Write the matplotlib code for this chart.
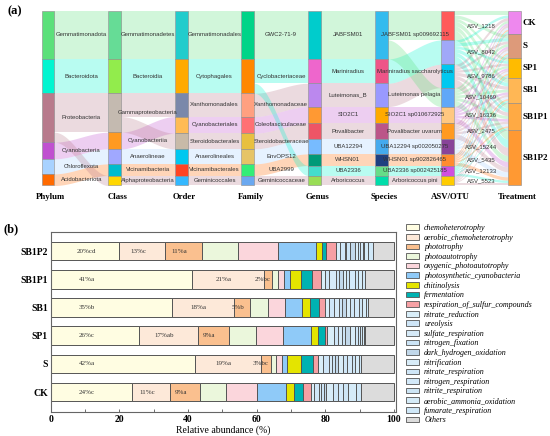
import matplotlib
matplotlib.use('Agg')

import matplotlib.pyplot as plt
import numpy as np
from matplotlib.patches import Patch, Rectangle

SERIF = 'Liberation Serif'
SANS = 'Liberation Sans'

# ── Panel (a): lineage of the ten dominant ASVs ──────────────────────────────
ASV_IDS = ['ASV_1218', 'ASV_8042', 'ASV_9786', 'ASV_10469', 'ASV_16336',
           'ASV_2475', 'ASV_15244', 'ASV_5435', 'ASV_12133', 'ASV_5523']
ASV_ABUND = [87, 73, 70, 57, 50, 47, 45, 35, 30, 30]
ASV_PHYLUM = ['Gemmatimonadota', 'Bacteroidota', 'Proteobacteria', 'Gemmatimonadota',
              'Cyanobacteria', 'Proteobacteria', 'Chloroflexota', 'Acidobacteriota',
              'Bacteroidota', 'Proteobacteria']
ASV_CLASS = ['Gemmatimonadetes', 'Bacteroidia', 'Gammaproteobacteria', 'Gemmatimonadetes',
             'Cyanobacteriia', 'Gammaproteobacteria', 'Anaerolineae', 'Vicinamibacteria',
             'Bacteroidia', 'Alphaproteobacteria']
ASV_ORDER = ['Gemmatimonadales', 'Cytophagales', 'Xanthomonadales', 'Gemmatimonadales',
             'Cyanobacteriales', 'Steroidobacterales', 'Anaerolineales', 'Vicinamibacterales',
             'Cytophagales', 'Geminicoccales']
ASV_FAMILY = ['GWC2-71-9', 'Cyclobacteriaceae', 'Xanthomonadaceae', 'GWC2-71-9',
              'Coleofasciculaceae', 'Steroidobacteraceae', 'EnvOPS12', 'UBA2999',
              'Cyclobacteriaceae', 'Geminicoccaceae']
ASV_GENUS = ['JABFSM01', 'Mariniradius', 'Luteimonas_B', 'JABFSM01', 'SIO2C1',
             'Povalibacter', 'UBA12294', 'WHSN01', 'UBA2336', 'Arboricoccus']
ASV_SPECIES = ['JABFSM01 sp009692115', 'Mariniradius saccharolyticus', 'Luteimonas pelagia',
               'JABFSM01 sp009692115', 'SIO2C1 sp010672925', 'Povalibacter uvarum',
               'UBA12294 sp002050275', 'WHSN01 sp902826465', 'UBA2336 sp002425185',
               'Arboricoccus pini']

TREATMENTS = ['CK', 'S', 'SP1', 'SB1', 'SB1P1', 'SB1P2']
# rows = ASV, columns = treatment
ASV_BY_TREATMENT = [
    [12, 10, 9, 14, 14, 28],
    [8, 10, 8, 11, 12, 24],
    [9, 8, 7, 10, 11, 25],
    [7, 8, 7, 8, 9, 18],
    [6, 7, 6, 7, 8, 16],
    [7, 6, 5, 7, 7, 15],
    [6, 6, 5, 6, 7, 15],
    [5, 5, 5, 5, 5, 10],
    [5, 5, 4, 5, 4, 7],
    [5, 5, 4, 4, 3, 9],
]

LEVEL_TITLES = ['Phylum', 'Class', 'Order', 'Family', 'Genus', 'Species', 'ASV/OTU', 'Treatment']

PHYLUM_NODES = ['Gemmatimonadota', 'Bacteroidota', 'Proteobacteria', 'Cyanobacteria',
                'Chloroflexota', 'Acidobacteriota']
PHYLUM_COLORS = ['#5be07a', '#00f5d0', '#b87a8c', '#c050d0', '#a8d2ff', '#ff6a00']
CLASS_NODES = ['Gemmatimonadetes', 'Bacteroidia', 'Gammaproteobacteria', 'Cyanobacteriia',
               'Anaerolineae', 'Vicinamibacteria', 'Alphaproteobacteria']
CLASS_COLORS = ['#66dc96', '#92ec4c', '#c4bab0', '#ff9a22', '#a0a8ff', '#00bccc', '#ffd700']
ORDER_NODES = ['Gemmatimonadales', 'Cytophagales', 'Xanthomonadales', 'Cyanobacteriales',
               'Steroidobacterales', 'Anaerolineales', 'Vicinamibacterales', 'Geminicoccales']
ORDER_COLORS = ['#22cccc', '#ffaa00', '#7a88aa', '#ffbb55', '#c8baa8', '#00c8f0',
                '#ff4422', '#33b8ff']
FAMILY_NODES = ['GWC2-71-9', 'Cyclobacteriaceae', 'Xanthomonadaceae', 'Coleofasciculaceae',
                'Steroidobacteraceae', 'EnvOPS12', 'UBA2999', 'Geminicoccaceae']
FAMILY_COLORS = ['#00d488', '#ff8800', '#ffa080', '#ff7074', '#e8c040', '#e6c466',
                 '#33ee77', '#6aa8f0']
GENUS_NODES = ['JABFSM01', 'Mariniradius', 'Luteimonas_B', 'SIO2C1', 'Povalibacter',
               'UBA12294', 'WHSN01', 'UBA2336', 'Arboricoccus']
GENUS_COLORS = ['#00cccc', '#ee66cc', '#bb88ee', '#ff9933', '#ee5566', '#77bbff',
                '#009977', '#44ddcc', '#99dd55']
SPECIES_NODES = ['JABFSM01 sp009692115', 'Mariniradius saccharolyticus', 'Luteimonas pelagia',
                 'SIO2C1 sp010672925', 'Povalibacter uvarum', 'UBA12294 sp002050275',
                 'WHSN01 sp902826465', 'UBA2336 sp002425185', 'Arboricoccus pini']
SPECIES_COLORS = ['#33bbee', '#ee5588', '#9999ff', '#ffaa00', '#bb5588', '#44aaee',
                  '#1f3f80', '#66dd88', '#00ddaa']
ASV_COLORS = ['#ff5a5a', '#a0a8f8', '#00c8f0', '#60a8f8', '#ffc880', '#ff9a20',
              '#884499', '#ff8c30', '#d050e0', '#ffcc00']
TREATMENT_COLORS = ['#ee88ee', '#dd9a7a', '#ffbb00', '#ffb755', '#ffaa44', '#ff9933']

# ── Panel (b): FAPROTAX functional groups ────────────────────────────────────
FUNCTIONS = ['chemoheterotrophy', 'aerobic_chemoheterotrophy', 'phototrophy',
             'photoautotrophy', 'oxygenic_photoautotrophy', 'photosynthetic_cyanobacteria',
             'chitinolysis', 'fermentation', 'respiration_of_sulfur_compounds',
             'nitrate_reduction', 'ureolysis', 'sulfate_respiration', 'nitrogen_fixation',
             'dark_hydrogen_oxidation', 'nitrification', 'nitrate_respiration',
             'nitrogen_respiration', 'nitrite_respiration', 'aerobic_ammonia_oxidation',
             'fumarate_respiration', 'Others']
FUNC_COLORS = ['#fffde2', '#fde9d9', '#fac08f', '#ebf7dc', '#fbd6dc', '#8fcaf8',
               '#e4e400', '#00b2b2', '#f6a0a4', '#d9eef9', '#cfe6f8', '#d6eaf8',
               '#cce4f6', '#c2d8ea', '#d8ecf8', '#cfe6f7', '#d3e9f9', '#cde5f5',
               '#d5ebf8', '#d0e8f8', '#dcdcdc']

BAR_ROWS = ['CK', 'S', 'SP1', 'SB1', 'SB1P1', 'SB1P2']
CK_PCT = [23.7, 11.1, 8.6, 7.8, 9.0, 8.4, 2.2, 2.6, 2.5,
          0.9, 1.5, 0.5, 0.7, 0.7, 2.0, 1.4, 1.5, 1.4, 2.5, 1.4, 9.6]
S_PCT = [42.0, 19.3, 2.9, 1.4, 1.7, 1.6, 4.0, 3.4, 1.5,
         1.6, 1.6, 0.9, 0.8, 0.9, 1.5, 1.1, 1.5, 0.8, 1.2, 0.7, 9.6]
SP1_PCT = [25.7, 17.2, 8.9, 8.1, 7.9, 8.1, 1.9, 2.2, 0.4,
           2.2, 1.2, 1.1, 0.9, 1.4, 1.3, 0.9, 0.7, 0.6, 0.5, 0.3, 8.5]
SB1_PCT = [35.2, 18.2, 4.8, 5.1, 5.0, 4.8, 2.3, 2.7, 1.7,
           1.3, 1.4, 1.5, 1.0, 0.9, 1.2, 1.3, 1.4, 1.0, 1.0, 0.7, 7.5]
SB1P1_PCT = [41.2, 20.9, 2.4, 1.8, 1.6, 1.8, 3.3, 3.0, 2.8,
             1.0, 1.4, 1.9, 1.0, 1.0, 1.0, 0.7, 1.7, 0.9, 1.3, 0.9, 8.4]
SB1P2_PCT = [20.0, 13.4, 10.6, 10.7, 11.5, 11.1, 1.6, 1.4, 2.8,
             1.1, 1.4, 0.4, 1.3, 1.3, 0.9, 0.6, 0.8, 0.5, 1.0, 1.4, 6.2]
BAR_LABELS = [
    ['24%c', '11%c', '9%a'],
    ['42%a', '19%a', '3%bc'],
    ['26%c', '17%ab', '9%a'],
    ['35%b', '18%a', '5%b'],
    ['41%a', '21%a', '2%bc'],
    ['20%cd', '13%c', '11%a'],
]


def draw_sankey(ax):
    levels = [ASV_PHYLUM, ASV_CLASS, ASV_ORDER, ASV_FAMILY, ASV_GENUS, ASV_SPECIES, ASV_IDS]
    columns = [PHYLUM_NODES, CLASS_NODES, ORDER_NODES, FAMILY_NODES, GENUS_NODES,
               SPECIES_NODES, ASV_IDS, TREATMENTS]
    col_colors = [PHYLUM_COLORS, CLASS_COLORS, ORDER_COLORS, FAMILY_COLORS, GENUS_COLORS,
                  SPECIES_COLORS, ASV_COLORS, TREATMENT_COLORS]
    phy_color = dict(zip(PHYLUM_NODES, PHYLUM_COLORS))

    # links (col, src, dst, value, phylum)
    links = []
    for c in range(6):
        agg, phy = {}, {}
        for i, a in enumerate(ASV_ABUND):
            key = (levels[c][i], levels[c + 1][i])
            agg[key] = agg.get(key, 0) + a
            phy[key] = ASV_PHYLUM[i]
        for (s, d), v in agg.items():
            links.append((c, s, d, v, phy[(s, d)]))
    for i, asv in enumerate(ASV_IDS):
        for j, t in enumerate(TREATMENTS):
            links.append((6, asv, t, ASV_BY_TREATMENT[i][j], ASV_PHYLUM[i]))

    # node sizes and tops
    sizes = [dict() for _ in columns]
    for c, s, d, v, _ in links:
        if c == 0:
            sizes[0][s] = sizes[0].get(s, 0) + v
        sizes[c + 1][d] = sizes[c + 1].get(d, 0) + v
    tops = []
    for c, nodes in enumerate(columns):
        y, t = 0, {}
        for n in nodes:
            t[n] = y
            y += sizes[c][n]
        tops.append(t)

    W = 0.195
    t_ = np.linspace(0, 1, 60)
    ease = 3 * t_ ** 2 - 2 * t_ ** 3
    for c in range(7):
        idx_s = {n: k for k, n in enumerate(columns[c])}
        idx_d = {n: k for k, n in enumerate(columns[c + 1])}
        cl = [l for l in links if l[0] == c]
        src_y, dst_y = {}, {}
        off = dict(tops[c])
        for l in sorted(cl, key=lambda l: (idx_s[l[1]], idx_d[l[2]])):
            src_y[(l[1], l[2])] = off[l[1]]
            off[l[1]] += l[3]
        off = dict(tops[c + 1])
        for l in sorted(cl, key=lambda l: (idx_d[l[2]], idx_s[l[1]])):
            dst_y[(l[1], l[2])] = off[l[2]]
            off[l[2]] += l[3]
        x0, x1 = c + W / 2, c + 1 - W / 2
        xs = x0 + (x1 - x0) * t_
        for _, s, d, v, p in cl:
            y0, y1 = src_y[(s, d)], dst_y[(s, d)]
            top = y0 + (y1 - y0) * ease
            ax.fill_between(xs, top, top + v, color=phy_color[p], alpha=0.28,
                            lw=0, zorder=1)

    for c, nodes in enumerate(columns):
        for n, col in zip(nodes, col_colors[c]):
            ax.add_patch(Rectangle((c - W / 2, tops[c][n]), W, sizes[c][n],
                                   facecolor=col, edgecolor='#8a8a8a', lw=0.4, zorder=3))
            yc = tops[c][n] + sizes[c][n] / 2
            if c < 7:
                ax.text(c + 0.5, yc, n, ha='center', va='center', fontsize=4.3,
                        family=SANS, color='#333333', zorder=4)
            else:
                ax.text(c + W / 2 + 0.03, yc, n, ha='left', va='center', fontsize=6.5,
                        family=SERIF, fontweight='bold', zorder=4)
    return sum(ASV_ABUND)


def main():
    fig = plt.figure(figsize=(5.5, 4.36), dpi=100)

    # ── (a) sankey ───────────────────────────────────────────────────────────
    ax_a = fig.add_axes([0, 1 - 205 / 436, 1, 205 / 436])
    total = draw_sankey(ax_a)
    upp = total / 174.5          # data units per pixel
    ax_a.set_xlim(-48 / 66.64, (550 - 48) / 66.64)
    ax_a.set_ylim((205 - 11) * upp, -11 * upp)
    ax_a.axis('off')
    for c, title in enumerate(LEVEL_TITLES):
        ax_a.text(c + 0.04, total + 12 * upp, title, ha='center', va='center',
                  fontsize=6.3, family=SERIF, fontweight='bold')
    fig.text(8 / 550, 1 - 11 / 436, '(a)', fontsize=9, family=SERIF,
             fontweight='bold', va='center')

    # ── (b) stacked bars ─────────────────────────────────────────────────────
    ax_b = fig.add_axes([50.7 / 550, 1 - 412 / 436, 345 / 550, 180 / 436])
    rows = [CK_PCT, S_PCT, SP1_PCT, SB1_PCT, SB1P1_PCT, SB1P2_PCT]
    ypos = np.arange(len(BAR_ROWS))
    lefts = np.zeros(len(BAR_ROWS))
    for k, (fn, col) in enumerate(zip(FUNCTIONS, FUNC_COLORS)):
        widths = np.array([r[k] for r in rows])
        ax_b.barh(ypos, widths, left=lefts, height=0.66, color=col,
                  edgecolor='#555555', lw=0.7, label=fn, zorder=2)
        if k < 3:
            for i in range(len(BAR_ROWS)):
                if k == 0:
                    xl = 10.5
                elif widths[i] < 4:
                    xl = lefts[i] + widths[i] / 2 - 1.6
                else:
                    xl = lefts[i] + widths[i] / 2 - 1.2
                ax_b.text(xl, ypos[i], BAR_LABELS[i][k], ha='center', va='center',
                          fontsize=5, family=SERIF, color='#333333', zorder=3)
        lefts += widths

    ax_b.set_xlim(0, 100.5)
    ax_b.set_ylim(-0.71, 5.68)
    ax_b.set_xticks([0, 20, 40, 60, 80, 100])
    ax_b.set_xticks([10, 30, 50, 70, 90], minor=True)
    ax_b.set_yticks(ypos)
    ax_b.set_yticklabels(BAR_ROWS)
    for lab in ax_b.get_xticklabels() + ax_b.get_yticklabels():
        lab.set_family(SERIF)
        lab.set_fontweight('bold')
        lab.set_fontsize(7)
    ax_b.tick_params(axis='x', which='both', direction='in', length=2, width=0.6,
                     color='#555555', pad=2.5)
    ax_b.tick_params(axis='y', length=0, pad=2)
    ax_b.set_xlabel('Relative abundance (%)', family=SERIF, fontsize=7, labelpad=0.5)
    for sp in ax_b.spines.values():
        sp.set_color('#666666')
        sp.set_linewidth(0.8)
    fig.text(3 / 550, 1 - 229 / 436, '(b)', fontsize=9, family=SERIF,
             fontweight='bold', va='center')

    handles = [Patch(facecolor=c, edgecolor='#555555', lw=0.6, label=f)
               for f, c in zip(FUNCTIONS, FUNC_COLORS)]
    fig.legend(handles=handles, loc='upper left',
               bbox_to_anchor=(406 / 550, 1 - 224 / 436), frameon=False,
               prop={'family': SERIF, 'style': 'italic', 'size': 5.8},
               handlelength=1.65, handleheight=0.7, handletextpad=0.6,
               labelspacing=0.2, borderpad=0, borderaxespad=0)

    fig.savefig('out.png', dpi=100, facecolor='white')
    plt.close(fig)


if __name__ == '__main__':
    main()
